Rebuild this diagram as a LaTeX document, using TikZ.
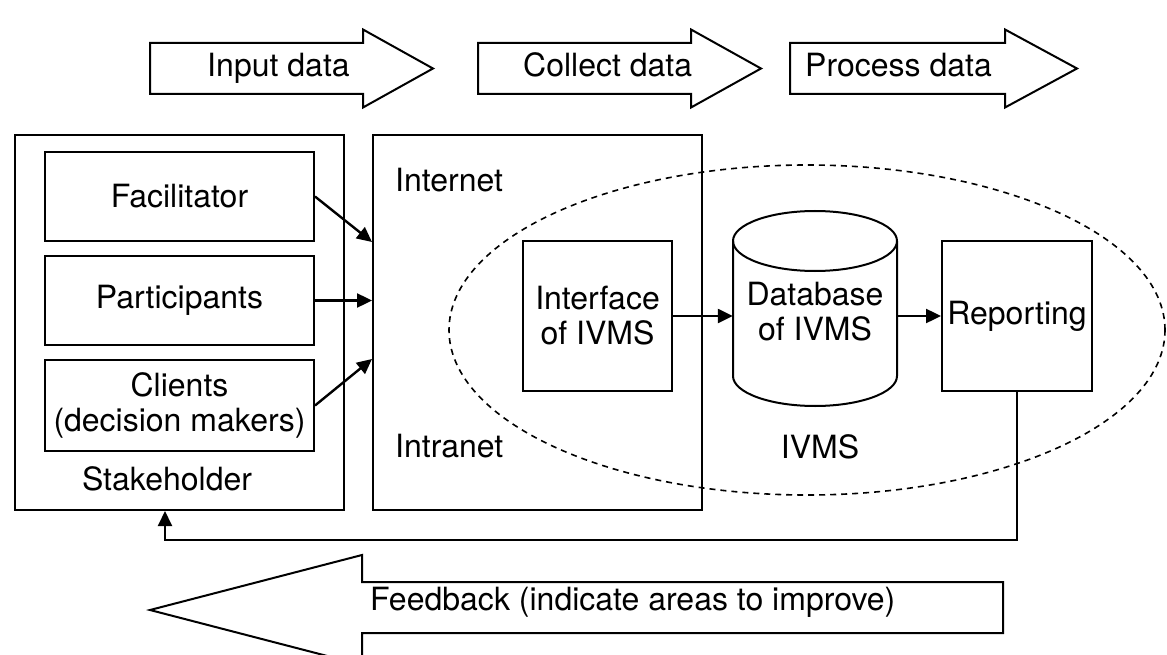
\documentclass[tikz,border=0pt]{standalone}
\usepackage{fontspec}
\setmainfont{TeX Gyre Heros}
\usetikzlibrary{arrows.meta,shapes.geometric,calc}

\begin{document}
\begin{tikzpicture}[x=1pt,y=-1pt,
  every node/.style={font=\fontsize{32}{35}\selectfont, inner sep=0pt},
  box/.style={draw, line width=2pt, rectangle},
  link/.style={line width=2.4pt, -{Triangle[length=15pt,width=14pt]}},
  blockarrow/.style={draw, line width=2pt, line join=miter},
  area/.style={draw, ellipse, line width=1.6pt, dash pattern=on 6pt off 5pt},
  cyl/.style={line width=2pt},
]
\useasboundingbox (0,0) rectangle (1167,655);

% process stages along the top
\draw[blockarrow] (150,43) -- (363,43) -- (363,29.5) -- (433,68.5) -- (363,107.5) -- (363,94) -- (150,94) -- cycle;
\node[anchor=base west] (inputtxt) at (207,77) {Input data};
\draw[blockarrow] (478,43) -- (691,43) -- (691,29.5) -- (761,68.5) -- (691,107.5) -- (691,94) -- (478,94) -- cycle;
\node[anchor=base west] (collecttxt) at (523,77) {Collect data};
\draw[blockarrow] (790,43) -- (1005,43) -- (1005,29.5) -- (1077,68.5) -- (1005,107.5) -- (1005,94) -- (790,94) -- cycle;
\node[anchor=base west] (processtxt) at (805,77) {Process data};

% stakeholder group
\node[box, minimum width=329pt, minimum height=375pt] (stake) at (179.5,322.5) {};
\node[box, minimum width=269pt, minimum height=89pt] (fac) at (179.5,196.5) {Facilitator};
\node[box, minimum width=269pt, minimum height=89pt] (par) at (179.5,300.5) {Participants};
\node[box, minimum width=269pt, minimum height=91pt, align=center] (cli) at (179.5,405.5) {Clients\\(decision makers)};
\node[anchor=base] (stakecap) at (167,490) {Stakeholder};

% network group
\node[box, minimum width=329pt, minimum height=375pt] (net) at (537.5,322.5) {};
\node[anchor=base west] (inet) at (395,192) {Internet};
\node[anchor=base west] (intra) at (395,457) {Intranet};

\draw[link] (fac.east) -- (net.west |- fac.south);
\draw[link] (par.east) -- (net.west |- par.east);
\draw[link] (cli.east) -- (net.west |- cli.north);

% IVMS system
\node[area, minimum width=716pt, minimum height=330pt] (ivmsarea) at (807,330) {};
\node[anchor=base] (ivms) at (820,458) {IVMS};

\node[box, minimum width=149pt, minimum height=150pt, align=center] (iface) at (597.5,316) {Interface\\of IVMS};

\draw[cyl] (733,241) -- (733,376) arc[start angle=180, end angle=360, x radius=82pt, y radius=30pt] -- (897,241);
\draw[cyl] (815,241) ellipse [x radius=82pt, y radius=30pt];
\node[minimum width=164pt, minimum height=190pt, align=center] (db) at (815,312) {Database\\of IVMS};

\node[box, minimum width=150pt, minimum height=150pt] (rep) at (1017,316) {Reporting};

\draw[link] (iface.east) -- (iface.east -| db.west);
\draw[link] (db.east |- rep.west) -- (rep.west);

% feedback loop
\coordinate (fbturn) at (165,540);
\draw[link, line width=2pt] (rep.south) |- (fbturn) -- (fbturn |- stake.south);

\begin{scope}
\clip (0,0) rectangle (1167,655);
\draw[blockarrow] (150,610) -- (362,555) -- (362,582) -- (1003,582) -- (1003,633) -- (362,633) -- (362,665) -- cycle;
\end{scope}
\node[anchor=base west] (fbtxt) at (370,610) {Feedback (indicate areas to improve)};
\end{tikzpicture}
\end{document}
